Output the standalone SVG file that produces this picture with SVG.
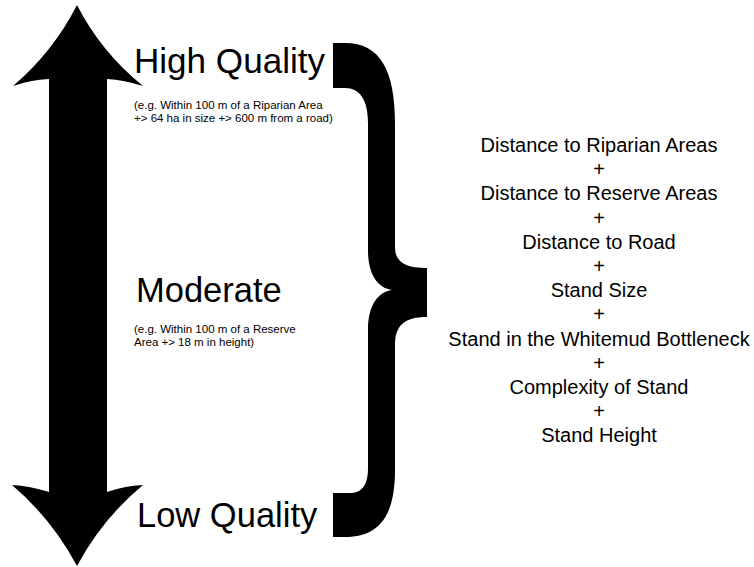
<svg xmlns="http://www.w3.org/2000/svg" width="754" height="567" viewBox="0 0 754 567">
<style>
text{font-family:"Liberation Sans",Arial,sans-serif;fill:#000}
.big{font-size:34.5px}
.small{font-size:11.5px}
.factor{font-size:20px;text-anchor:middle}
.shape{fill:#000;stroke:none}
</style>
<rect width="754" height="567" fill="#fff"/>
<g id="arrow">
<path class="shape" d="M77,5 Q53,52 13,86 Q30,80 49,79 L49,492 Q30,486 12,485 Q52,519 77,566 Q102,519 143,485 Q124,486 107,492 L107,79 Q124,80 143,86 Q101,52 77,5 Z"/>
</g>
<g id="brace">
<path class="shape" d="M333,43 L345,43 C380,43 395,70 395,123 L395,247 C395,262 405,268 427,268 L427,317 C405,317 395,325 395,345 L395,470 C395,515 380,537 345,537 L333,537 L333,493 L350,493 C362,493 368,485 368,468 L368,330 C368,305 378,292 392,290 C378,288 368,275 368,250 L368,123 C368,100 360,88 345,88 L333,88 Z"/>
</g>
<g id="high">
<text class="big" x="134" y="73" textLength="191" lengthAdjust="spacingAndGlyphs">High Quality</text>
<text class="small" x="134" y="109">(e.g. Within 100 m of a Riparian Area</text>
<text class="small" x="134" y="121.5">+&gt; 64 ha in size +&gt; 600 m from a road)</text>
</g>
<g id="moderate">
<text class="big" x="136" y="301.5">Moderate</text>
<text class="small" x="134" y="333">(e.g. Within 100 m of a Reserve</text>
<text class="small" x="134" y="345.5">Area +&gt; 18 m in height)</text>
</g>
<g id="low">
<text class="big" x="137" y="527">Low Quality</text>
</g>
<g id="factors">
<text class="factor" x="599" y="152">Distance to Riparian Areas</text>
<text class="factor" x="599" y="176.2">+</text>
<text class="factor" x="599" y="200.4">Distance to Reserve Areas</text>
<text class="factor" x="599" y="224.6">+</text>
<text class="factor" x="599" y="248.8">Distance to Road</text>
<text class="factor" x="599" y="273">+</text>
<text class="factor" x="599" y="297.2">Stand Size</text>
<text class="factor" x="599" y="321.4">+</text>
<text class="factor" x="599" y="345.6">Stand in the Whitemud Bottleneck</text>
<text class="factor" x="599" y="369.8">+</text>
<text class="factor" x="599" y="394">Complexity of Stand</text>
<text class="factor" x="599" y="418.2">+</text>
<text class="factor" x="599" y="442.4">Stand Height</text>
</g>
</svg>
